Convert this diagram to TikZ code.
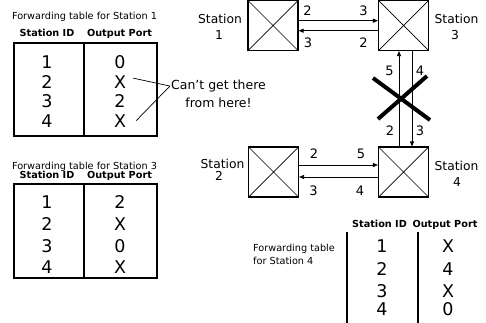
\documentclass[tikz,border=0pt]{standalone}
\usepackage{fontspec}
\setmainfont{DejaVu Sans}
\usetikzlibrary{arrows.meta}
\begin{document}
\begin{tikzpicture}[x=1pt,y=-1pt,
  station/.style={draw, line width=1.1pt, minimum width=50pt, minimum height=50pt, inner sep=0pt,
    path picture={\draw[line width=0.7pt]
      (path picture bounding box.north west) -- (path picture bounding box.south east)
      (path picture bounding box.north east) -- (path picture bounding box.south west);}},
  link/.style={line width=0.8pt, -{Triangle[length=5pt,width=4pt]}},
  port/.style={font=\fontsize{13}{13}\selectfont, anchor=base, inner sep=0pt},
  slabel/.style={font=\fontsize{12.3}{12}\selectfont, anchor=base, inner sep=0pt},
  title/.style={font=\fontsize{9.7}{10}\selectfont, anchor=base, inner sep=0pt},
  head/.style={font=\fontsize{9.7}{10}\selectfont\bfseries, anchor=base, inner sep=0pt},
  cell/.style={font=\fontsize{17.5}{18}\selectfont, anchor=base, inner sep=0pt},
  tbl/.style={draw, line width=1.6pt, inner sep=0pt},
  rule/.style={line width=1.6pt},
  cross/.style={line width=4pt},
  note/.style={font=\fontsize{12.5}{13}\selectfont, anchor=base, inner sep=0pt},
  pointer/.style={line width=0.7pt}]
\useasboundingbox (0,0) rectangle (486,322);

% ---- stations ----
\node[station] (s1) at (273,25.5) {};
\node[station] (s3) at (403.5,25.5) {};
\node[station] (s2) at (273.5,172) {};
\node[station] (s4) at (403.5,172) {};

\node[slabel] (s1a) at (220,23.3) {Station};
\node[slabel] (s1b) at (219,39.3) {1};
\node[slabel] (s3a) at (456.5,23.5) {Station};
\node[slabel] (s3b) at (455,39.5) {3};
\node[slabel] (s2a) at (222.5,168) {Station};
\node[slabel] (s2b) at (219,180) {2};
\node[slabel] (s4a) at (456.5,170) {Station};
\node[slabel] (s4b) at (457,186.7) {4};

% ---- links ----
\draw[link] ([yshift=4.8pt]s1.east) -- ([yshift=4.8pt]s3.west);
\draw[link] ([yshift=-5.2pt]s3.west) -- ([yshift=-5.2pt]s1.east);
\draw[link] ([xshift=-4.5pt]s4.north) -- ([xshift=-4.5pt]s3.south);
\draw[link] ([xshift=8.5pt]s3.south) -- ([xshift=8.5pt]s4.north);
\draw[link] ([yshift=7pt]s2.east) -- ([yshift=7pt]s4.west);
\draw[link] ([yshift=-5pt]s4.west) -- ([yshift=-5pt]s2.east);

% port numbers
\node[port] (p12) at (307.5,15) {2};
\node[port] (p13) at (363.5,15) {3};
\node[port] (p13b) at (308,47.3) {3};
\node[port] (p32) at (363.5,47.3) {2};
\node[port] (p35) at (389.5,75) {5};
\node[port] (p34) at (420,75) {4};
\node[port] (p42) at (390,135) {2};
\node[port] (p43) at (420,135) {3};
\node[port] (p22) at (314,158) {2};
\node[port] (p45) at (361,158) {5};
\node[port] (p23) at (313.5,195) {3};
\node[port] (p44) at (360,195) {4};

% broken link
\draw[cross] (373,78) -- (430,120);
\draw[cross] (427,76) -- (378,119);

% ---- forwarding table, station 1 ----
\node[title] (ft1) at (84.5,19) {Forwarding table for Station 1};
\node[head] (h1a) at (47,36.5) {Station ID};
\node[head] (h1b) at (119.5,36.5) {Output Port};
\node[tbl, minimum width=143pt, minimum height=93pt] (t1) at (85.5,89.5) {};
\draw[rule] ([xshift=-1.5pt]t1.north) -- ([xshift=-1.5pt]t1.south);
\node[cell] (a11) at (47,68) {1};   \node[cell] (b11) at (120,68) {0};
\node[cell] (a12) at (47,88) {2};   \node[cell] (b12) at (120,88) {X};
\node[cell] (a13) at (47,107) {3};  \node[cell] (b13) at (120,107) {2};
\node[cell] (a14) at (47,127) {4};  \node[cell] (b14) at (120,127) {X};

\node[note] (cant1) at (218.5,89.5) {Can't get there};
\node[note] (cant2) at (218.5,107) {from here!};
\draw[pointer] ([shift={(7,-3.5)}]b12.east) -- ([xshift=-1pt]cant1.west);
\draw[pointer] ([shift={(10,0)}]b14.east) -- ([xshift=-1pt]cant1.west);

% ---- forwarding table, station 3 ----
\node[title] (ft3) at (84.5,169) {Forwarding table for Station 3};
\node[head] (h3a) at (47,178.5) {Station ID};
\node[head] (h3b) at (119.5,178.5) {Output Port};
\node[tbl, minimum width=143pt, minimum height=94pt] (t3) at (85.5,231) {};
\draw[rule] ([xshift=-1.5pt]t3.north) -- ([xshift=-1.5pt]t3.south);
\node[cell] (a31) at (47,208) {1};   \node[cell] (b31) at (120,208) {2};
\node[cell] (a32) at (47,230) {2};   \node[cell] (b32) at (120,230) {X};
\node[cell] (a33) at (47,252) {3};   \node[cell] (b33) at (120,252) {0};
\node[cell] (a34) at (47,273) {4};   \node[cell] (b34) at (120,273) {X};

% ---- forwarding table, station 4 ----
\node[title, anchor=base west] (ft4a) at (253,251) {Forwarding table};
\node[title, anchor=base west] (ft4b) at (253,264.5) {for Station 4};
\node[head] (h4a) at (379.5,227.5) {Station ID};
\node[head] (h4b) at (445,227.5) {Output Port};
\draw[rule] (347,232) -- (347,324);
\draw[rule] (418,232) -- (418,324);
\node[cell] (a41) at (382,252) {1};   \node[cell] (b41) at (448,252) {X};
\node[cell] (a42) at (382,275) {2};   \node[cell] (b42) at (448,275) {4};
\node[cell] (a43) at (382,297) {3};   \node[cell] (b43) at (448,297) {X};
\node[cell] (a44) at (382,315) {4};   \node[cell] (b44) at (448,315) {0};
\end{tikzpicture}
\end{document}
